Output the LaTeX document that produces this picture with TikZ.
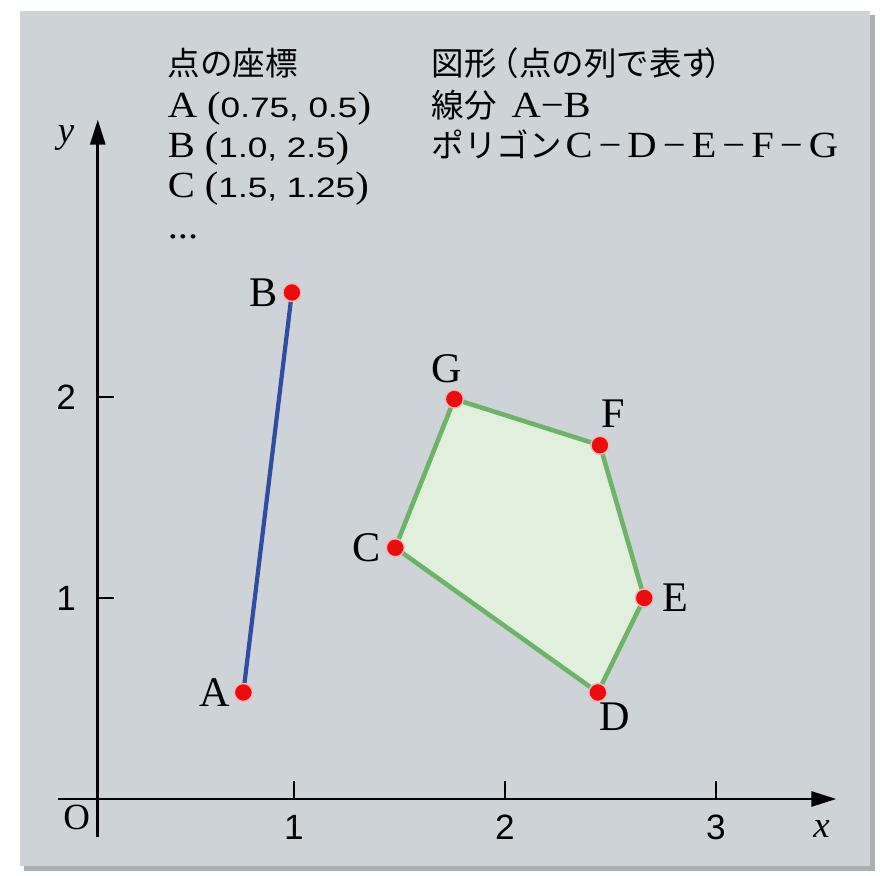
\documentclass[tikz,border=0pt]{standalone}
\usepackage{fontspec}
\setmainfont{Liberation Serif}
\newfontfamily\cjk{Noto Sans CJK JP}
\newfontfamily\txtf[FakeStretch=1.1]{Liberation Serif}
\newfontfamily\numf[FakeStretch=1.25]{Liberation Sans}
\newfontfamily\tickf{Liberation Sans}
\usetikzlibrary{arrows.meta, positioning}
\definecolor{panelgray}{RGB}{205,211,215}
\definecolor{paneledge}{RGB}{170,176,180}
\definecolor{ptred}{RGB}{236,12,12}
\definecolor{segblue}{RGB}{48,78,160}
\definecolor{polygreen}{RGB}{108,180,104}
\definecolor{polyfill}{RGB}{224,240,220}
\newcommand{\nm}[1]{{\numf\fontsize{16}{18}\selectfont #1}}
\newcommand{\jp}[1]{{\cjk\fontsize{18.5}{20}\selectfont #1}}
\newcommand{\dash}{\hspace{0.12cm}−\hspace{0.12cm}}
\tikzset{
  axis/.style={-{Triangle[length=0.5cm,width=0.3cm]}, line width=1.6pt, color=black},
  tickmark/.style={line width=1.1pt, color=black},
  ticklbl/.style={font=\tickf\fontsize{20}{24}\selectfont, inner sep=0pt},
  axlbl/.style={font=\fontsize{21}{24}\selectfont, inner sep=0pt},
  ptnode/.style={circle, fill=ptred, draw=ptred!30, line width=0.8pt,
    minimum size=0.36cm, inner sep=0pt},
  ptlbl/.style={font=\fontsize{24}{28}\selectfont, inner sep=0pt},
  txt/.style={font=\txtf\fontsize{21}{24}\selectfont, anchor=base west, inner sep=0pt},
  seg/.style={color=segblue, line width=2.4pt},
  poly/.style={draw=polygreen, fill=polyfill, line width=2.6pt, line join=round}
}
\begin{document}
\begin{tikzpicture}[x=4.22cm, y=4.02cm]
  \useasboundingbox (-1.66cm,-1.54cm) rectangle (15.94cm,15.98cm);
  % Panel
  \fill[white] (-1.66cm,-1.54cm) rectangle (15.94cm,15.98cm);
  \fill[paneledge] (-1.18cm,-1.44cm) rectangle (15.84cm,15.68cm);
  \fill[panelgray] (-1.26cm,-1.34cm) rectangle (15.74cm,15.76cm);
  % Axes
  \coordinate (xbeg) at (-0.12,0);
  \coordinate (xend) at (3.57,0);
  \coordinate (ybeg) at (0.07,-0.19);
  \coordinate (yend) at (0.07,3.38);
  \draw[axis] (xbeg) -- (xend);
  \draw[axis] (ybeg) -- (yend);
  \foreach \x in {1,2,3} {
    \draw[tickmark] (\x,0) -- ++(0,0.36cm);
    \node[ticklbl] (xtick\x) at (\x,-0.14) {\x};
  }
  \foreach \y in {1,2} {
    \draw[tickmark] (0.07,\y) -- ++(0.32cm,0);
    \node[ticklbl] (ytick\y) at (-0.08,\y) {\y};
  }
  \node[axlbl] (orig) at (-0.03,-0.09) {O};
  \node[axlbl] (xlbl) at (3.50,-0.15) {\itshape x};
  \node[axlbl] (ylbl) at (-0.08,3.29) {\itshape y};
  % Points
  \coordinate (pA) at (0.76,0.53);
  \coordinate (pB) at (0.99,2.52);
  \coordinate (pC) at (1.48,1.25);
  \coordinate (pD) at (2.44,0.53);
  \coordinate (pE) at (2.66,1.00);
  \coordinate (pF) at (2.45,1.76);
  \coordinate (pG) at (1.76,1.99);
  % Line segment and polygon
  \draw[seg] (pA) -- (pB);
  \draw[poly] (pC) -- (pD) -- (pE) -- (pF) -- (pG) -- cycle;
  \foreach \p in {A,B,C,D,E,F,G}
    \node[ptnode] (\p) at (p\p) {};
  \node[ptlbl, left=0.06cm of A] (lblA) {A};
  \node[ptlbl, left=0.08cm of B] (lblB) {B};
  \node[ptlbl, left=0.1cm of C] (lblC) {C};
  \node[ptlbl, right=0.16cm of E] (lblE) {E};
  \node[ptlbl, above=0.12cm of G, xshift=-0.16cm] (lblG) {G};
  \node[ptlbl, above=0.16cm of F, xshift=0.26cm] (lblF) {F};
  \node[ptlbl, below=0cm of D, xshift=0.34cm] (lblD) {D};
  % Text
  \node[txt] (ttlpts) at (0.40,3.60) {\jp{点の座標}};
  \node[txt] (rowA) at (0.40,3.39) {A (\nm{0.75, 0.5})};
  \node[txt] (rowB) at (0.40,3.19) {B (\nm{1.0, 2.5})};
  \node[txt] (rowC) at (0.40,2.99) {C (\nm{1.5, 1.25})};
  \node[txt] (rowdots) at (0.40,2.79) {...};
  \node[txt] (ttlfig) at (1.65,3.60)
    {\jp{図形\hspace{-0.2cm}（点の列で表す\hspace{-0.2cm}）}};
  \node[txt] (rowseg) at (1.65,3.39) {\jp{線分}\hspace{0.3cm}A−B};
  \node[txt] (rowpoly) at (1.65,3.19)
    {\jp{ポリゴン}\hspace{0.08cm}C\dash D\dash E\dash F\dash G};
\end{tikzpicture}
\end{document}
